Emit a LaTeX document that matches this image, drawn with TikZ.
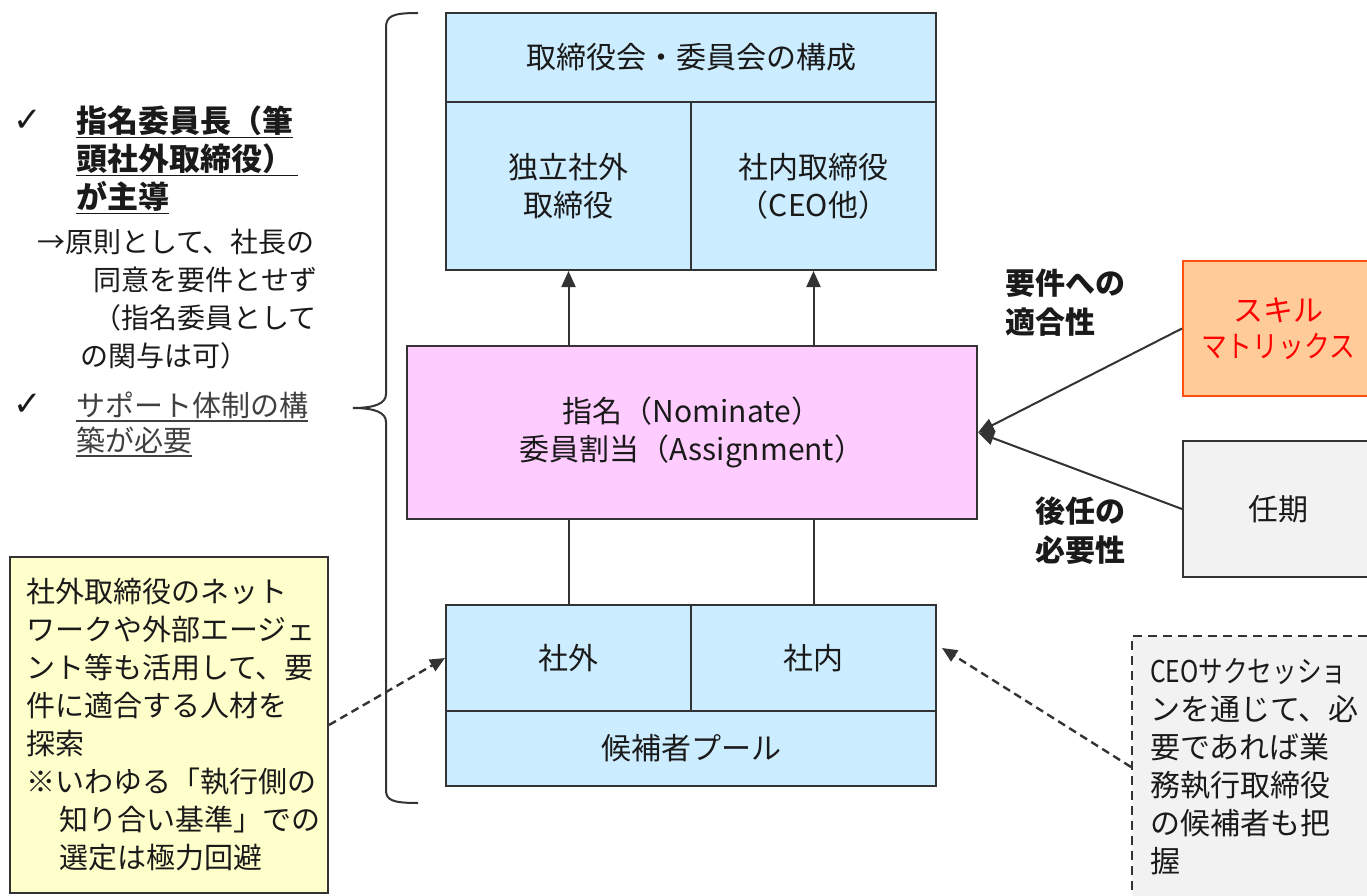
\documentclass[tikz,border=0pt]{standalone}
\usepackage{fontspec}
\setmainfont{Noto Sans CJK JP}
\newfontfamily\pf{Noto Sans CJK JP}[RawFeature=+palt]
\newfontfamily\symf{DejaVu Sans}
\usetikzlibrary{arrows.meta}
\definecolor{lineC}{HTML}{333333}
\definecolor{txtC}{HTML}{1A1A1A}
\definecolor{blueF}{HTML}{CCECFF}
\definecolor{pinkF}{HTML}{FFCCFF}
\definecolor{yelF}{HTML}{FFFFCC}
\definecolor{grayF}{HTML}{F2F2F2}
\definecolor{orF}{HTML}{FFCC99}
\definecolor{orB}{HTML}{FF5010}
\definecolor{subC}{HTML}{404040}
\newsavebox\zulbox
\newcommand\zul[2][txtC]{\sbox\zulbox{#2}\rlap{\smash{\color{#1}\rule[-6pt]{\wd\zulbox}{1.8pt}}}\usebox\zulbox}
\begin{document}
\begin{tikzpicture}[x=1pt,y=-1pt,
  every node/.style={font=\fontsize{30}{38}\selectfont, text=txtC, inner sep=0pt},
  cell/.style={draw=lineC, line width=2pt, fill=blueF, align=center},
  pinkbox/.style={draw=lineC, line width=2pt, fill=pinkF, align=center},
  arr/.style={draw=lineC, line width=2pt, -{Triangle[length=16pt,width=14pt]}},
  ln/.style={draw=lineC, line width=2pt},
  darr/.style={draw=lineC, line width=2.4pt, dash pattern=on 8pt off 5pt, -{Triangle[length=15pt,width=13pt]}},
  chk/.style={font=\symf\fontsize{34}{34}\selectfont},
  bold/.style={font=\bfseries\fontsize{30}{39}\selectfont}
]
\useasboundingbox (0,0) rectangle (1367,896);
\clip (0,0) rectangle (1367,896);

% composition box
\node[cell, minimum width=490pt, minimum height=89pt] (hdr) at (691,57.5) {取締役会・委員会の構成};
\node[cell, minimum width=245pt, minimum height=168pt] (ind) at (568.5,186) {独立社外\\取締役};
\node[cell, minimum width=245pt, minimum height=168pt] (inn) at (813.5,186) {社内取締役\\（CEO他）};

% nomination box
\node[pinkbox, minimum width=570pt, minimum height=173pt] (nom) at (692,432.5) {指名（Nominate）\\委員割当（Assignment）};

% candidate pool
\node[cell, minimum width=245pt, minimum height=106pt] (out) at (568.5,658) {社外};
\node[cell, minimum width=245pt, minimum height=106pt] (inr) at (813.5,658) {社内};
\node[cell, minimum width=490pt, minimum height=75pt] (pool) at (691,748.5) {候補者プール};

% vertical connectors
\draw[arr] (nom.north -| ind.south) -- (ind.south);
\draw[arr] (nom.north -| inn.south) -- (inn.south);
\draw[ln] (out.north) -- (out.north |- nom.south);
\draw[ln] (inr.north) -- (inr.north |- nom.south);

% brace
\draw[lineC, line width=2pt] (418,13) .. controls (392,13) and (386,16) .. (386,28) -- (386,394)
  .. controls (386,403) and (376,408) .. (353,408)
  .. controls (376,408) and (386,413) .. (386,422) -- (386,790)
  .. controls (386,800) and (392,803) .. (418,803);

% left text
\node[chk] (c1) at (28,121) {✓};
\node[anchor=west, align=left, font=\bfseries\fontsize{31}{38}\selectfont] (lead) at (76,158.5)
  {\zul{指名委員長（筆}\\\zul{\makebox[222pt][l]{頭社外取締役）}}\\\zul{が主導}};
\node[anchor=west, align=left, font=\fontsize{28}{38}\selectfont] (note) at (37,299.5)
  {→原則として、社長の\\\hspace*{56pt}同意を要件とせず\\\hspace*{56pt}（指名委員として\\\hspace*{43pt}の関与は可）};
\node[chk] (c2) at (28,405) {✓};
\node[anchor=west, align=left, text=subC, font=\fontsize{29}{35}\selectfont] (sup) at (76,422.5)
  {\zul[subC]{サポート体制の構}\\\zul[subC]{築が必要}};

% yellow note
\node[draw=lineC, line width=2pt, fill=yelF, minimum width=318pt, minimum height=336pt,
      text width=286pt, align=left, font=\fontsize{29}{38}\selectfont] (yel) at (169,725)
  {社外取締役のネット\\ワークや外部エージェ\\ント等も活用して、要\\件に適合する人材を\\探索\\※いわゆる「執行側の\\\hspace*{33pt}知り合い基準」での\\\hspace*{33pt}選定は極力回避};
\draw[darr] (yel.east) -- (out.west);

% right side
\node[draw=orB, line width=2pt, fill=orF, minimum width=190pt, minimum height=135pt,
      align=center, text=red, font=\fontsize{30}{36}\selectfont] (skill) at (1278,328.5)
  {スキル\\\scalebox{0.86}[1]{マトリックス}};
\node[draw=lineC, line width=2pt, fill=grayF, minimum width=190pt, minimum height=136pt] (term) at (1278,509) {任期};
\draw[arr] (skill.west) -- (nom.east);
\draw[arr] (term.west) -- (nom.east);
\node[anchor=west, align=left, bold] (lab1) at (1005,302.5) {要件への\\適合性};
\node[anchor=west, align=left, bold] (lab2) at (1035,531) {後任の\\必要性};

% CEO succession note
\node[draw=lineC, line width=2pt, dash pattern=on 9pt off 6pt, fill=grayF, minimum width=260pt,
      minimum height=270pt, anchor=north west] (ceo) at (1131,635) {};
\node[anchor=west, align=left, font=\fontsize{30}{38}\selectfont] (ceotxt) at (1150,767)
  {\scalebox{0.82}[1]{CEOサクセッショ}\\ンを通じて、必\\要であれば業\\務執行取締役\\の候補者も把\\握};
\draw[darr] (ceo.west |- 0,767) -- ([xshift=5pt,yshift=10pt]inr.east);
\end{tikzpicture}
\end{document}
